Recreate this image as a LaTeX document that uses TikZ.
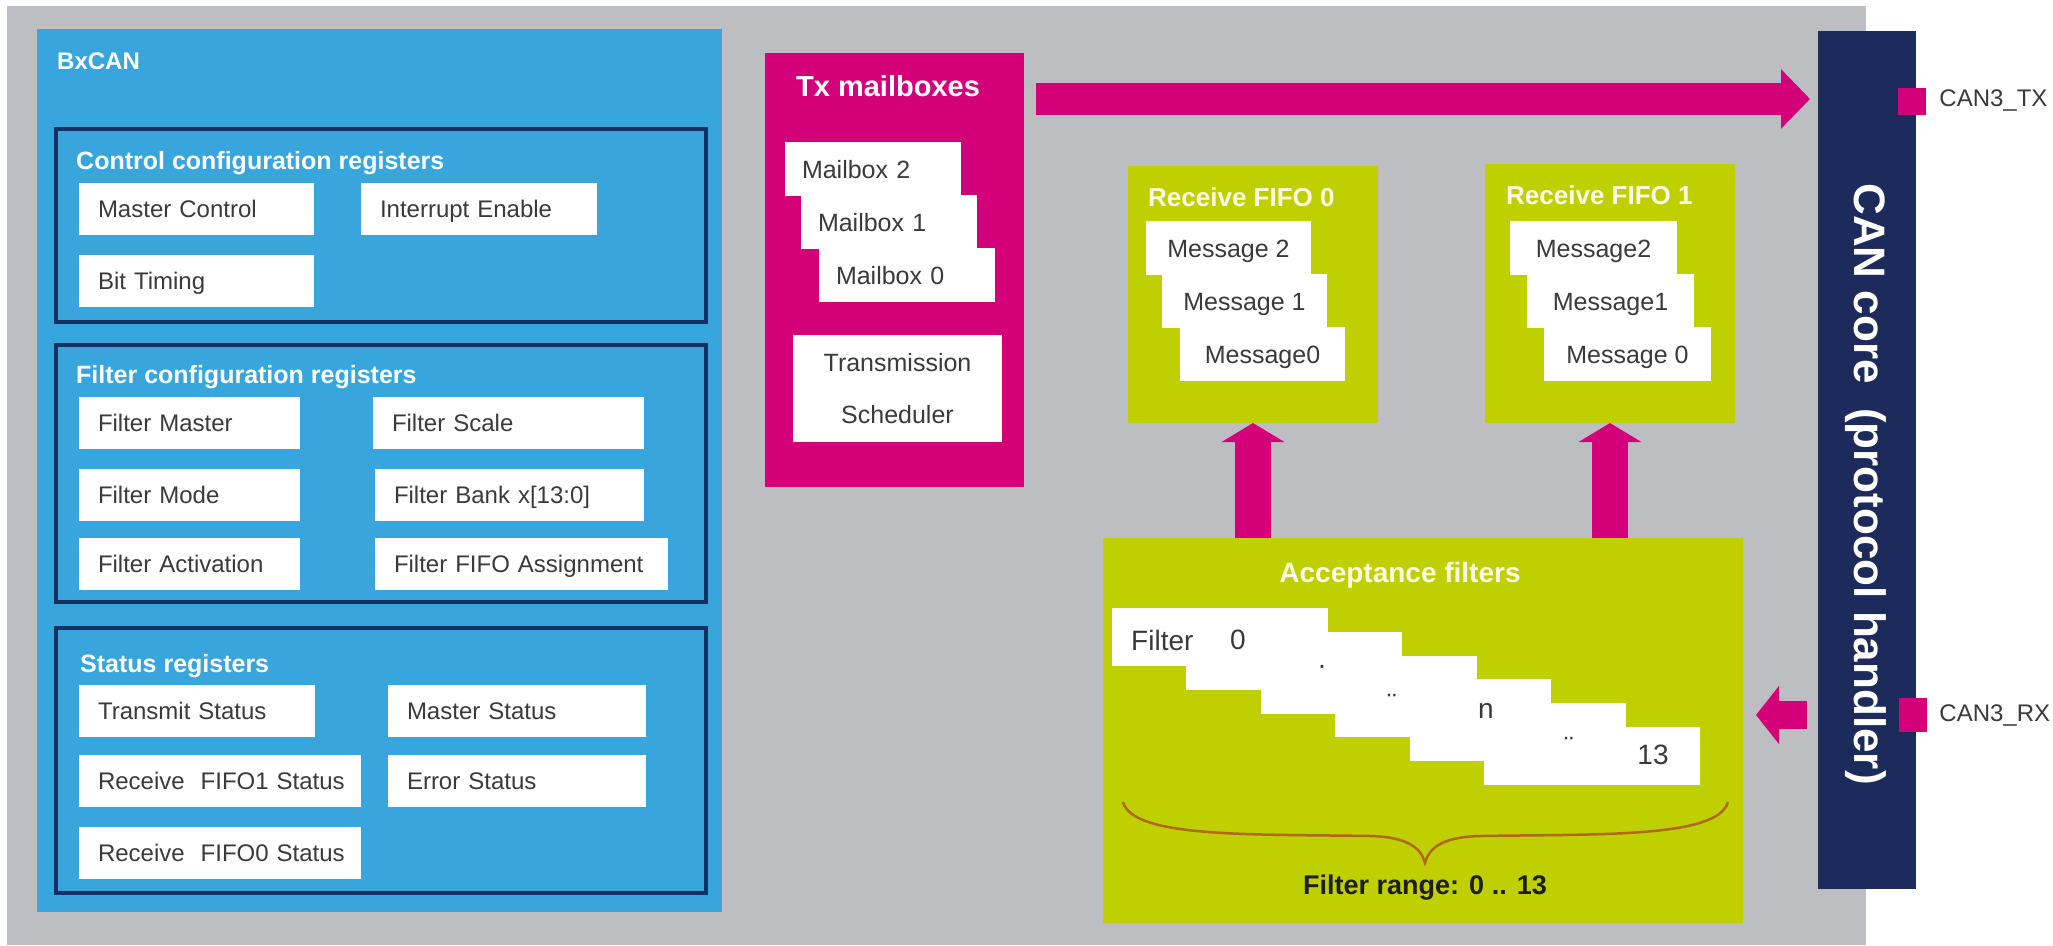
\documentclass[tikz,border=0pt]{standalone}
\usepackage{fontspec}
\setmainfont{Liberation Sans}
\usetikzlibrary{positioning, arrows.meta}

\definecolor{bggray}{RGB}{189,190,194}
\definecolor{bxblue}{RGB}{56,166,220}
\definecolor{grpnavy}{RGB}{22,48,98}
\definecolor{corenavy}{RGB}{29,43,92}
\definecolor{stmagenta}{RGB}{212,0,122}
\definecolor{stlime}{RGB}{192,207,0}
\definecolor{boxtext}{RGB}{58,58,58}
\definecolor{titlecream}{RGB}{252,250,228}
\definecolor{bracebrown}{RGB}{176,104,28}
\definecolor{rangetext}{RGB}{30,30,20}

\begin{document}
\begin{tikzpicture}[x=1pt, y=-1pt,
    panel/.style={rectangle, anchor=north west, inner sep=0pt, outer sep=0pt},
    grpframe/.style={panel, draw=grpnavy, line width=4.5pt},
    whitebox/.style={panel, fill=white, text=boxtext},
    regbox/.style={whitebox, inner xsep=19pt, minimum height=52pt, align=left,
        text height=20pt, text depth=3pt, font=\fontsize{24}{28}\selectfont},
    mailbox/.style={whitebox, inner xsep=17pt, minimum height=54pt, text width=142pt,
        align=left, text height=21pt, text depth=3pt, font=\fontsize{25}{30}\selectfont},
    msgbox/.style={whitebox, minimum width=165pt, minimum height=54pt,
        text height=21pt, text depth=3pt, font=\fontsize{25}{30}\selectfont},
    grptitle/.style={anchor=base west, inner sep=0pt, text=white,
        font=\bfseries\fontsize{25}{30}\selectfont},
    fifotitle/.style={grptitle, text=titlecream, font=\bfseries\fontsize{26}{30}\selectfont},
    fltbox/.style={panel, fill=white, minimum width=216pt, minimum height=58pt},
    fltmark/.style={inner sep=0pt, text=boxtext, font=\fontsize{28}{32}\selectfont},
    portsq/.style={rectangle, fill=stmagenta, minimum width=28pt, inner sep=0pt},
    portlabel/.style={anchor=west, inner sep=0pt, text=boxtext, font=\fontsize{24}{28}\selectfont},
    bigarrow/.style={draw=stmagenta, line width=32pt, -{Triangle[length=29pt, width=58pt]}},
    uparrow/.style={draw=stmagenta, line width=36pt, -{Triangle[length=19pt, width=62pt]}},
    rxarrow/.style={draw=stmagenta, line width=28pt, -{Triangle[length=23pt, width=57pt]}},
  ]
    % Page and background
    \fill[white] (0,0) rectangle (2053,945);
    \useasboundingbox (0,0) rectangle (2053,945);
    \node[panel, fill=bggray, minimum width=1859pt, minimum height=939pt] (bg) at (7,6) {};

    % BxCAN register blocks
    \node[panel, fill=bxblue, minimum width=685pt, minimum height=883pt] (bxcan) at (37,29) {};
    \node[grptitle, font=\bfseries\fontsize{24}{28}\selectfont] (bxcantitle) at (57,69) {BxCAN};

    \node[grpframe, minimum width=650pt, minimum height=193pt] (ctrl) at (56,129) {};
    \node[grptitle] (ctrltitle) at (76,169) {Control configuration registers};
    \node[regbox, text width=197pt] (mastercontrol) at (79,183) {Master Control};
    \node[regbox, text width=198pt, right=47pt of mastercontrol] (intenable) {Interrupt Enable};
    \node[regbox, text width=197pt, below=20pt of mastercontrol] (bittiming) {Bit Timing};

    \node[grpframe, minimum width=650pt, minimum height=257pt] (filtgrp) at (56,345) {};
    \node[grptitle] (filttitle) at (76,383) {Filter configuration registers};
    \node[regbox, text width=183pt] (filtmaster) at (79,397) {Filter Master};
    \node[regbox, text width=233pt, right=73pt of filtmaster] (filtscale) {Filter Scale};
    \node[regbox, text width=183pt] (filtmode) at (79,469) {Filter Mode};
    \node[regbox, text width=231pt, right=75pt of filtmode] (filtbank) {Filter Bank x[13:0]};
    \node[regbox, text width=183pt] (filtact) at (79,538) {Filter Activation};
    \node[regbox, text width=255pt, right=75pt of filtact] (filtfifo) {Filter FIFO Assignment};

    \node[grpframe, minimum width=650pt, minimum height=265pt] (statgrp) at (56,628) {};
    \node[grptitle] (stattitle) at (80,672) {Status registers};
    \node[regbox, text width=198pt] (txstatus) at (79,685) {Transmit Status};
    \node[regbox, text width=220pt, right=73pt of txstatus] (mststatus) {Master Status};
    \node[regbox, text width=244pt] (fifo1status) at (79,755) {\mbox{Receive~ FIFO1 Status}};
    \node[regbox, text width=220pt, right=27pt of fifo1status] (errstatus) {Error Status};
    \node[regbox, text width=244pt] (fifo0status) at (79,827) {\mbox{Receive~ FIFO0 Status}};

    % Tx mailboxes
    \node[panel, fill=stmagenta, minimum width=259pt, minimum height=434pt] (txmail) at (765,53) {};
    \node[grptitle, font=\bfseries\fontsize{29}{34}\selectfont] (txtitle) at (796,96) {Tx mailboxes};
    \node[mailbox] (mailbox2) at (785,142) {Mailbox 2};
    \node[mailbox] (mailbox1) at (801,195) {Mailbox 1};
    \node[mailbox] (mailbox0) at (819,248) {Mailbox 0};
    \node[whitebox, minimum width=209pt, minimum height=107pt, align=center,
        font=\fontsize{25}{52}\selectfont] (scheduler) at (793,335) {Transmission\\Scheduler};

    % Receive FIFOs
    \node[panel, fill=stlime, minimum width=250pt, minimum height=257pt] (fifo0) at (1128,166) {};
    \node[fifotitle] (fifo0title) at (1148,206) {Receive FIFO 0};
    \node[msgbox] (f0msg2) at (1146,221) {Message 2};
    \node[msgbox] (f0msg1) at (1162,274) {Message 1};
    \node[msgbox] (f0msg0) at (1180,327) {Message0};

    \node[panel, fill=stlime, minimum width=250pt, minimum height=259pt] (fifo1) at (1485,164) {};
    \node[fifotitle] (fifo1title) at (1506,204) {Receive FIFO 1};
    \node[msgbox, minimum width=167pt] (f1msg2) at (1510,221) {Message2};
    \node[msgbox, minimum width=167pt] (f1msg1) at (1527,274) {Message1};
    \node[msgbox, minimum width=167pt] (f1msg0) at (1544,327) {Message 0};

    % Acceptance filters
    \node[panel, fill=stlime, minimum width=640pt, minimum height=385pt] (acc) at (1103,538) {};
    \node[fifotitle, anchor=base, font=\bfseries\fontsize{28}{32}\selectfont] (acctitle) at (1400,582) {Acceptance filters};
    \foreach \i in {0,...,5}
        \node[fltbox] (flt\i) at ({1112+74.4*\i},{608+23.8*\i}) {};
    \node[fltmark, anchor=west] (fltname) at (1131,640) {Filter};
    \node[fltmark] (fltfirst) at (1238,640) {0};
    \node[fltmark, anchor=north] (fltdot) at (1322,665) {·};
    \node[fltmark, anchor=north] (fltdots1) at (1392,694) {¨};
    \node[fltmark] (fltn) at (1486,711) {n};
    \node[fltmark, anchor=north] (fltdots2) at (1569,737) {¨};
    \node[fltmark] (fltlast) at (1653,755) {13};
    \draw[bracebrown, line width=2.5pt] (1123,802) .. controls (1133,838) and (1250,834) .. (1370,836)
        .. controls (1408,837) and (1421,848) .. (1425,863)
        .. controls (1429,848) and (1442,837) .. (1480,836)
        .. controls (1600,834) and (1718,838) .. (1728,802);
    \node[grptitle, anchor=base, text=rangetext, font=\bfseries\fontsize{27}{32}\selectfont] (rangetitle) at (1425,894) {Filter range: 0 .. 13};

    % CAN core and pins
    \node[panel, fill=corenavy, minimum width=98pt, minimum height=858pt] (core) at (1818,31) {};
    \node[rotate=-90, inner sep=0pt, text=white, font=\bfseries\fontsize{44}{50}\selectfont] (coretitle) at (1866,484) {CAN core~ (protocol handler)};
    \node[portsq, minimum height=27pt] (txpin) at (1912,101) {};
    \node[portlabel, right=13pt of txpin] (txlabel) {CAN3\_TX};
    \node[portsq, minimum height=34pt] (rxpin) at (1913,715) {};
    \node[portlabel, right=12pt of rxpin] (rxlabel) {CAN3\_RX};

    % Data paths
    \coordinate (txport) at (1024,99);
    \draw[bigarrow, shorten <=12pt, shorten >=8pt] (txport) -- (txport -| core.west);
    \draw[uparrow] (fifo0.south |- acc.north) -- (fifo0.south);
    \draw[uparrow] (fifo1.south |- acc.north) -- (fifo1.south);
    \draw[rxarrow, shorten <=11pt, shorten >=13pt] (rxpin -| core.west) -- (rxpin -| acc.east);
\end{tikzpicture}
\end{document}
